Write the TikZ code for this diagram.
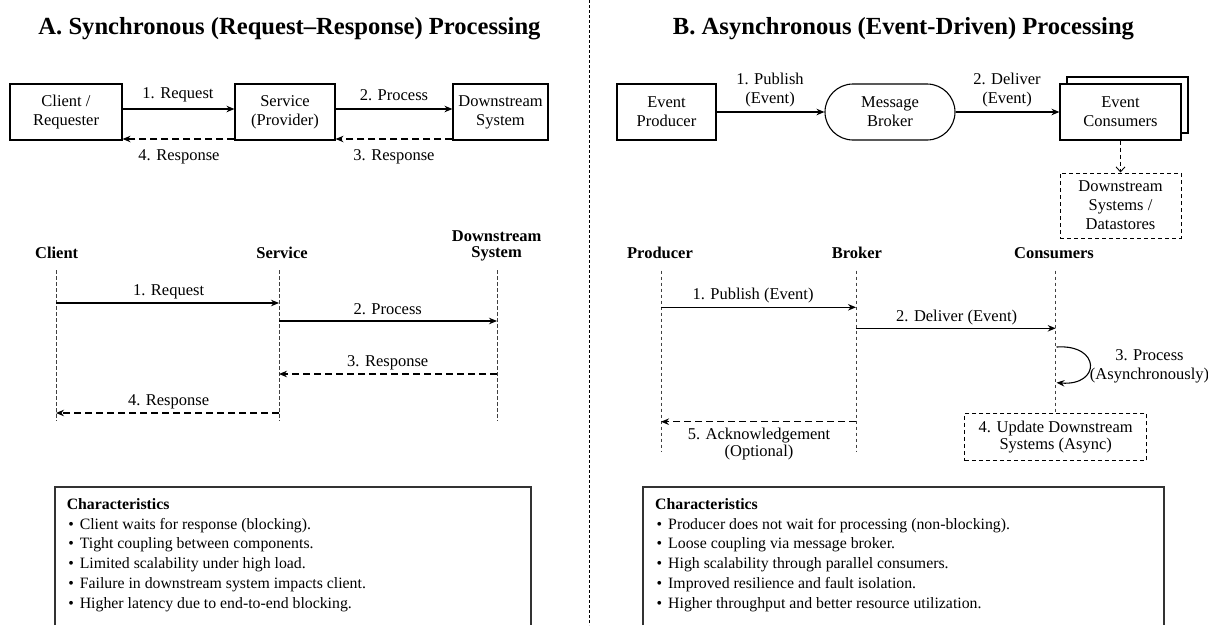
\documentclass[tikz,border=0pt]{standalone}
\usepackage{fontspec}
\setmainfont{Liberation Serif}
\usetikzlibrary{arrows.meta,calc}

\newcommand\lblfont{\fontsize{16.5}{19}\selectfont}
\newcommand\hdrfont{\bfseries\fontsize{16.5}{16}\selectfont}
\newcommand\ttlfont{\bfseries\fontsize{24.6}{28}\selectfont}
\newcommand\chfont{\fontsize{15.8}{19.8}\selectfont}

\tikzset{
  box/.style={draw, line width=1.1pt, minimum height=56pt, inner sep=2pt,
              align=center, font=\lblfont, fill=white},
  lbl/.style={font=\lblfont, inner sep=0pt, align=center},
  hdr/.style={font=\hdrfont, inner sep=0pt, align=center},
  ttl/.style={font=\ttlfont, inner sep=0pt},
  arr/.style={line width=1.1pt, -{Stealth[length=8pt,width=6.5pt]}},
  rsp/.style={arr, dash pattern=on 7pt off 4pt},
  life/.style={line width=0.85pt, black!75, dash pattern=on 3.5pt off 2.5pt},
  dbox/.style={draw, line width=1pt, dash pattern=on 4pt off 3pt,
               align=center, font=\lblfont, inner sep=2pt},
  chbox/.style={draw=black!80, line width=1.1pt},
  chline/.style={font=\chfont, inner sep=0pt, anchor=base west},
}

\begin{document}
\begin{tikzpicture}[x=1pt, y=-1pt]
\useasboundingbox (0,0) rectangle (1208,625);
\fill[white] (0,0) rectangle (1208,625);

% panel titles and divider
\node[ttl] (ta) at (289.5,29) {A. Synchronous (Request–Response) Processing};
\node[ttl] (tb) at (903.5,29) {B. Asynchronous (Event-Driven) Processing};
\draw[line width=0.8pt, dash pattern=on 3pt off 2pt] (589.5,0) -- (589.5,625);

% ---------------- A: component view ----------------
\node[box, minimum width=112pt] (cl) at (66,112) {Client /\\Requester};
\node[box, minimum width=100pt] (sv) at (285,112) {Service\\(Provider)};
\node[box, minimum width=95pt]  (ds) at (500.5,112) {Downstream\\System};

\draw[arr] (cl.east |- 0,109) -- (sv.west |- 0,109);
\draw[arr] (sv.east |- 0,109) -- (ds.west |- 0,109);
\draw[rsp] (ds.west |- 0,139) -- (sv.east |- 0,139);
\draw[rsp] (sv.west |- 0,139) -- (cl.east |- 0,139);

\node[lbl] (la1) at (178,95)  {1. Request};
\node[lbl] (la2) at (394,95)  {2. Process};
\node[lbl] (la3) at (394,157) {3. Response};
\node[lbl] (la4) at (179,157) {4. Response};

% ---------------- B: component view ----------------
\node[box, minimum width=99pt] (ep) at (666.5,112) {Event\\Producer};
\node[box, minimum width=130pt, rounded corners=28pt] (mb) at (890,112) {Message\\Broker};
\node[box, minimum width=121pt] (ecb) at (1127.5,105) {};
\node[box, minimum width=121pt] (ec)  at (1120.5,112) {Event\\Consumers};
\node[dbox, minimum width=121pt, minimum height=65pt] (dsb) at (1120.5,205.5)
  {Downstream\\Systems /\\Datastores};

\draw[arr] (ep.east) -- (mb.west);
\draw[arr] (mb.east) -- (ec.west);
\draw[line width=0.9pt, dash pattern=on 4pt off 3pt,
      -{Straight Barb[length=5pt,width=9pt]}] (ec.south) -- (dsb.north);

\node[lbl] (lb1) at (770,90.5)  {1. Publish\\(Event)};
\node[lbl] (lb2) at (1007,90.5) {2. Deliver\\(Event)};

% ---------------- A: sequence view ----------------
\node[hdr] (hc) at (56.7,253) {Client};
\node[hdr] (hs) at (282,253)  {Service};
\node[hdr] (hd) at (496.6,246) {Downstream\\System};

\coordinate (c0) at (56,270);  \coordinate (c1) at (56,421);
\coordinate (s0) at (279,270); \coordinate (s1) at (279,421);
\coordinate (d0) at (497,270); \coordinate (d1) at (497,421);
\draw[life] (c0) -- (c1);
\draw[life] (s0) -- (s1);
\draw[life] (d0) -- (d1);

\draw[arr] (c0 |- 0,303) -- (s0 |- 0,303);
\draw[arr] (s0 |- 0,321) -- (d0 |- 0,321);
\draw[rsp] (d0 |- 0,374) -- (s0 |- 0,374);
\draw[rsp] (s0 |- 0,413) -- (c0 |- 0,413);

\node[lbl] (sa1) at (168.6,291.5) {1. Request};
\node[lbl] (sa2) at (387.7,309.5) {2. Process};
\node[lbl] (sa3) at (387.7,362.5) {3. Response};
\node[lbl] (sa4) at (168.6,401.5) {4. Response};

% ---------------- B: sequence view ----------------
\node[hdr] (hp) at (660,253)  {Producer};
\node[hdr] (hb) at (857,253)  {Broker};
\node[hdr] (hn) at (1054,253) {Consumers};

\node[dbox, minimum width=181.5pt, minimum height=47.5pt,
      font=\fontsize{16.5}{17}\selectfont] (upd) at (1055.7,437)
  {4. Update Downstream\\Systems (Async)};

\coordinate (p0) at (661,270.7);  \coordinate (p1) at (661,452);
\coordinate (b0) at (856,270.7);  \coordinate (b1) at (856,452);
\coordinate (n0) at (1055.7,270.7);
\draw[life] (p0) -- (p1);
\draw[life] (b0) -- (b1);
\draw[life] (n0) -- (upd.north);

\draw[arr] (p0 |- 0,307.3) -- (b0 |- 0,307.3);
\draw[arr] (b0 |- 0,328.3) -- (n0 |- 0,328.3);
\coordinate (lp0) at (1056.5,347);
\coordinate (lp1) at (1056.5,382.7);
\draw[arr] (lp0) .. controls (1101,344) and (1101,386) .. (lp1);
\draw[rsp] (b0 |- 0,421.7) -- (p0 |- 0,421.7);

\node[lbl] (sb1) at (753,295.7)  {1. Publish (Event)};
\node[lbl] (sb2) at (956.6,317.2) {2. Deliver (Event)};
\node[lbl, font=\fontsize{16.5}{18.5}\selectfont] (sb3) at (1149.5,366.5)
  {3. Process\\(Asynchronously)};
\node[lbl, font=\fontsize{16.5}{17.7}\selectfont] (sb5) at (759,444)
  {5. Acknowledgement\\(Optional)};

% ---------------- characteristics panels ----------------
\draw[chbox] (55,625) |- (531,487) -- (531,625);
\node[chline, font=\chfont\bfseries] (ca0) at (66.6,509) {Characteristics};
\node[chline] (ca1) at (66.6,529.5) {\hspace{1.5pt}\textbullet\hspace{6pt}Client waits for response (blocking).};
\node[chline] (ca2) at (66.6,548)   {\hspace{1.5pt}\textbullet\hspace{6pt}Tight coupling between components.};
\node[chline] (ca3) at (66.6,568)   {\hspace{1.5pt}\textbullet\hspace{6pt}Limited scalability under high load.};
\node[chline] (ca4) at (66.6,588)   {\hspace{1.5pt}\textbullet\hspace{6pt}Failure in downstream system impacts client.};
\node[chline] (ca5) at (66.6,608)   {\hspace{1.5pt}\textbullet\hspace{6pt}Higher latency due to end-to-end blocking.};

\draw[chbox] (643,625) |- (1164,487) -- (1164,625);
\node[chline, font=\chfont\bfseries] (cb0) at (655,509) {Characteristics};
\node[chline] (cb1) at (655,529.5) {\hspace{1.5pt}\textbullet\hspace{6pt}Producer does not wait for processing (non-blocking).};
\node[chline] (cb2) at (655,548)   {\hspace{1.5pt}\textbullet\hspace{6pt}Loose coupling via message broker.};
\node[chline] (cb3) at (655,568)   {\hspace{1.5pt}\textbullet\hspace{6pt}High scalability through parallel consumers.};
\node[chline] (cb4) at (655,588)   {\hspace{1.5pt}\textbullet\hspace{6pt}Improved resilience and fault isolation.};
\node[chline] (cb5) at (655,608)   {\hspace{1.5pt}\textbullet\hspace{6pt}Higher throughput and better resource utilization.};
\end{tikzpicture}
\end{document}
